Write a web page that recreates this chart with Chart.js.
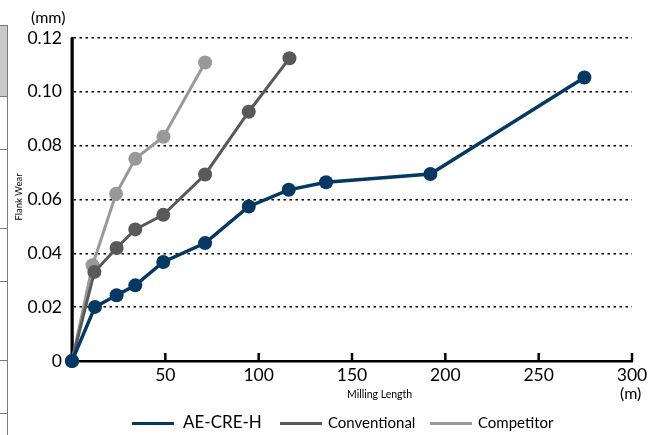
<!DOCTYPE html>
<html>
<head>
<meta charset="utf-8">
<script src="https://cdn.jsdelivr.net/npm/chart.js@4"></script>
<style>
  body { margin: 0; background: #fff; }
  #wrap { position: relative; width: 662px; height: 435px; font-family: Lato, "Noto Sans", sans-serif; color: #000; }
  #wrap canvas { position: absolute; left: 0; top: 0; }
  .abs { position: absolute; white-space: nowrap; }
  .hline { position: absolute; left: 0; width: 8px; height: 1px; background: #7a7a7a; }
</style>
</head>
<body>
<div id="wrap">
  <canvas id="chart" width="662" height="435"></canvas>
  <!-- 왼쪽 잘린 표 테두리 -->
  <div class="abs" style="left:0;top:25px;width:7px;height:71px;background:#c9c9ca;"></div>
  <div class="abs" style="left:7px;top:25px;width:1px;height:410px;background:#7a7a7a;"></div>
  <div class="hline" style="top:25px"></div>
  <div class="hline" style="top:96px"></div>
  <div class="hline" style="top:149px"></div>
  <div class="hline" style="top:228px"></div>
  <div class="hline" style="top:281px"></div>
  <div class="hline" style="top:360px"></div>
  <div class="hline" style="top:413px"></div>

  <div class="abs" style="left:31px;top:7px;font-size:16px;">(mm)</div>
  <div class="abs" style="left:18px;top:197px;font-size:9.5px;transform:translate(-50%,-50%) rotate(-90deg);">Flank Wear</div>
  <div class="abs" style="left:347px;top:388px;font-size:10.5px;">Milling Length</div>
  <div class="abs" style="left:620px;top:383px;font-size:16px;">(m)</div>
  <div id="legend"></div>
</div>
<script>
// 시리즈 데이터
const seriesNames = ['AE-CRE-H', 'Conventional', 'Competitor'];
const seriesColors = ['#053862', '#595959', '#999999'];

const aeX = [0, 12.3, 23.9, 33.9, 48.9, 71.3, 94.7, 116.1, 136.1, 192, 274.5];
const aeY = [0, 0.0201, 0.0244, 0.0281, 0.0368, 0.0438, 0.0574, 0.0636, 0.0664, 0.0695, 0.1053];

const convX = [0, 12, 23.9, 33.9, 48.9, 71.3, 94.7, 116.5];
const convY = [0, 0.0331, 0.042, 0.0489, 0.0543, 0.0693, 0.0926, 0.1125];

const compX = [0, 11, 23.6, 33.9, 49, 71.3];
const compY = [0, 0.0356, 0.0621, 0.0751, 0.0833, 0.1109];

const xTicks = [0, 50, 100, 150, 200, 250, 300];
const yTicks = [0, 0.02, 0.04, 0.06, 0.08, 0.10, 0.12];

const toPoints = (xs, ys) => xs.map((x, i) => ({ x: x, y: ys[i] }));
const allSeries = [toPoints(aeX, aeY), toPoints(convX, convY), toPoints(compX, compY)];

// x축 눈금을 안쪽(위쪽)으로, y축 선은 굵게 다시 그리기
const axisExtras = {
    id: 'axisExtras',
    beforeDatasetsDraw(chart) {
        const ctx = chart.ctx;
        const xs = chart.scales.x;
        const { left, top, bottom } = chart.chartArea;
        ctx.save();
        ctx.strokeStyle = '#000';
        ctx.lineWidth = 2.5;
        xTicks.forEach(v => {
            if (v === 0) return;
            const px = xs.getPixelForValue(v);
            ctx.beginPath();
            ctx.moveTo(px, bottom);
            ctx.lineTo(px, bottom - 8);
            ctx.stroke();
        });
        ctx.lineWidth = 3;
        ctx.setLineDash([]);
        ctx.beginPath();
        ctx.moveTo(left, top);
        ctx.lineTo(left, bottom + 1);
        ctx.stroke();
        ctx.restore();
    }
};

new Chart(document.getElementById('chart'), {
    type: 'line',
    data: {
        datasets: allSeries.map((pts, i) => ({
            label: seriesNames[i],
            data: pts,
            borderColor: seriesColors[i],
            backgroundColor: seriesColors[i],
            pointBackgroundColor: seriesColors[i],
            pointBorderWidth: 0,
            pointRadius: 7,
            borderWidth: i === 0 ? 3.5 : 3,
            tension: 0,
            fill: false,
            clip: false
        }))
    },
    options: {
        responsive: false,
        animation: false,
        layout: { padding: { top: 38, right: 30, left: 0, bottom: 0 } },
        plugins: { legend: { display: false }, tooltip: { enabled: false } },
        scales: {
            x: {
                type: 'linear',
                min: 0, max: 300,
                afterFit: s => { s.height = 74; },
                afterBuildTicks: s => { s.ticks = xTicks.map(v => ({ value: v })); },
                ticks: {
                    padding: 4,
                    color: '#000',
                    font: { family: 'Lato', size: 17.5 },
                    maxRotation: 0,
                    callback: v => (v === 0 ? '' : String(v))
                },
                grid: { drawOnChartArea: false, drawTicks: false },
                border: { color: '#000', width: 2.5 }
            },
            y: {
                min: 0, max: 0.12,
                afterFit: s => { s.width = 72; },
                afterBuildTicks: s => { s.ticks = yTicks.map(v => ({ value: v })); },
                ticks: {
                    padding: 10,
                    color: '#000',
                    font: { family: 'Lato', size: 17.5 },
                    callback: v => (v === 0 ? '0' : v.toFixed(2))
                },
                grid: {
                    drawTicks: false,
                    color: ctx => (ctx.tick && ctx.tick.value === 0 ? 'rgba(0,0,0,0)' : '#000'),
                    lineWidth: 1.5
                },
                border: { color: '#000', width: 2.5, dash: [2.5, 3.5] }
            }
        }
    },
    plugins: [axisExtras]
});

// 범례 (HTML)
const legendPos = [
    { line: 132, text: 183, size: 17 },
    { line: 280, text: 328, size: 15 },
    { line: 430, text: 478, size: 15 }
];
document.getElementById('legend').innerHTML = seriesNames.map((name, i) => `
    <div class="abs" style="left:${legendPos[i].line}px;top:422px;width:42px;height:3px;background:${seriesColors[i]};"></div>
    <div class="abs" style="left:${legendPos[i].text}px;top:423px;transform:translateY(-55%);font-size:${legendPos[i].size}px;">${name}</div>
`).join('');
</script>
</body>
</html>
